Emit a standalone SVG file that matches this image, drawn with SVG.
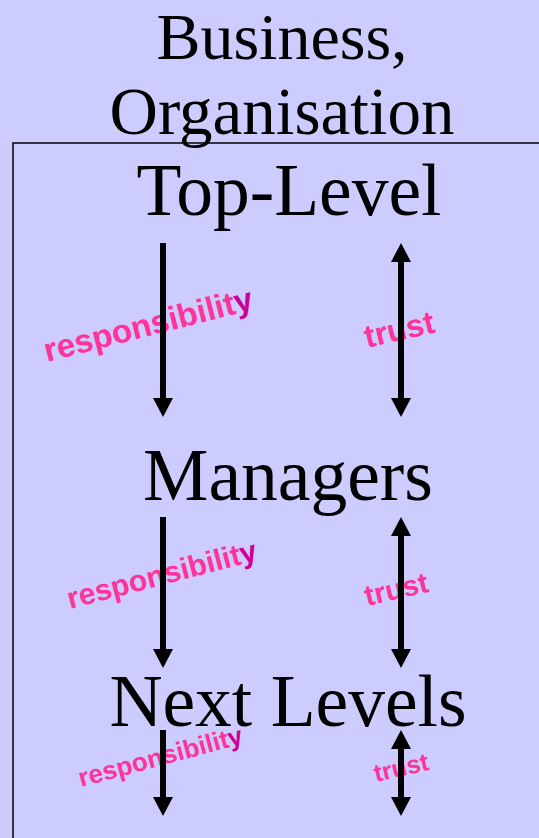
<svg xmlns="http://www.w3.org/2000/svg" width="539" height="838" viewBox="0 0 539 838">
<defs>
<style>
.title{font-family:"Liberation Serif","Times New Roman",serif;fill:#000;text-anchor:middle}
.lbl{font-family:"Liberation Sans",Arial,sans-serif;font-weight:bold;fill:#FF3399}
.y{fill:#CC0099}
.arr{stroke:#000;stroke-width:6;fill:none}
.head{fill:#000}
</style>
</defs>
<rect width="539" height="838" fill="#CCCCFF"/>
<path d="M13,838 V143 H539" stroke="#000" stroke-width="1.5" fill="none"/>
<g id="title">
<text class="title" x="282" y="59" font-size="66">Business,</text>
<text class="title" x="282" y="134" font-size="67">Organisation</text>
</g>
<g id="top-level"><text class="title" x="289" y="215" font-size="73.5">Top-Level</text></g>
<g id="managers"><text class="title" x="288" y="500" font-size="73.5">Managers</text></g>
<g id="next-levels"><text class="title" x="288" y="726" font-size="73.5">Next Levels</text></g>
<g id="labels">
<text class="lbl" x="47" y="362" font-size="33" transform="rotate(-14.3 47 362)">responsibilit<tspan class="y">y</tspan></text>
<text class="lbl" x="70" y="609" font-size="30" transform="rotate(-14.6 70 609)">responsibilit<tspan class="y">y</tspan></text>
<text class="lbl" x="81" y="787" font-size="26" transform="rotate(-15 81 787)">responsibilit<tspan class="y">y</tspan></text>
<text class="lbl" x="367" y="348" font-size="32" transform="rotate(-13 367 348)">trust</text>
<text class="lbl" x="367" y="606" font-size="29" transform="rotate(-13 367 606)">trust</text>
<text class="lbl" x="376" y="782" font-size="25" transform="rotate(-13 376 782)">trust</text>
</g>
<g id="connectors">
<line class="arr" x1="163" y1="243" x2="163" y2="402"/>
<polygon class="head" points="153,398 173,398 163,417"/>
<line class="arr" x1="401" y1="258" x2="401" y2="402"/>
<polygon class="head" points="391,262 411,262 401,243"/>
<polygon class="head" points="391,398 411,398 401,417"/>
<line class="arr" x1="163" y1="517" x2="163" y2="653"/>
<polygon class="head" points="153,649 173,649 163,668"/>
<line class="arr" x1="401" y1="532" x2="401" y2="653"/>
<polygon class="head" points="391,536 411,536 401,517"/>
<polygon class="head" points="391,649 411,649 401,668"/>
<line class="arr" x1="163" y1="730" x2="163" y2="801"/>
<polygon class="head" points="153,797 173,797 163,816"/>
<line class="arr" x1="401" y1="745" x2="401" y2="801"/>
<polygon class="head" points="391,749 411,749 401,730"/>
<polygon class="head" points="391,797 411,797 401,816"/>
</g>
</svg>
